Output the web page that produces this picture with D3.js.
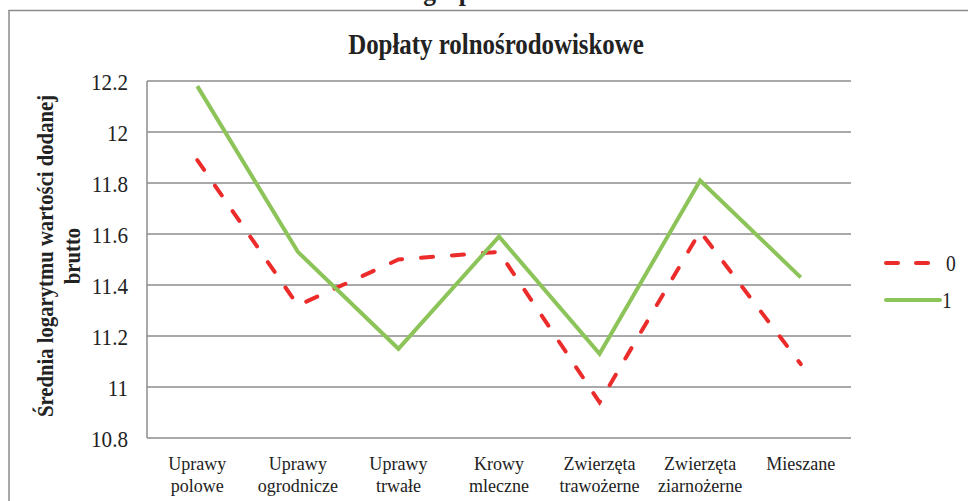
<!DOCTYPE html>
<html>
<head>
<meta charset="utf-8">
<script src="https://cdn.jsdelivr.net/npm/d3@7/dist/d3.min.js"></script>
<style>
  html, body { margin: 0; padding: 0; background: #fff; }
  svg { display: block; }
  svg text { font-family: "Liberation Serif", "Times New Roman", serif; fill: #222; }
</style>
</head>
<body>
<svg id="chart" width="968" height="501"></svg>
<script>
// data
const categories = ['Uprawy polowe', 'Uprawy ogrodnicze', 'Uprawy trwałe', 'Krowy mleczne', 'Zwierzęta trawożerne', 'Zwierzęta ziarnożerne', 'Mieszane'];
const categoryLines = [['Uprawy', 'polowe'], ['Uprawy', 'ogrodnicze'], ['Uprawy', 'trwałe'], ['Krowy', 'mleczne'], ['Zwierzęta', 'trawożerne'], ['Zwierzęta', 'ziarnożerne'], ['Mieszane']];
const values0 = [11.89, 11.32, 11.50, 11.53, 10.94, 11.61, 11.09];
const values1 = [12.18, 11.53, 11.15, 11.59, 11.13, 11.81, 11.43];
const seriesNames = ['0', '1'];
const yTicks = [10.8, 11, 11.2, 11.4, 11.6, 11.8, 12, 12.2];

const svg = d3.select('#chart');
const W = 968, H = 501;
const plot = { left: 147, right: 851, top: 81, bottom: 438 };
const grey = '#8c8c8c';
const red = '#ec2b2b';
const green = '#8dc459';

// narrow-looking text like the source (scaled along the text direction)
function label(parent, x, y, str, size, opts = {}) {
  const sx = opts.squeeze ?? 0.85;
  const rot = opts.rotate ? ' rotate(-90)' : '';
  const lines = Array.isArray(str) ? str : [str];
  const t = parent.append('text')
    .attr('transform', `translate(${x},${y})${rot} scale(${sx},1)`)
    .attr('text-anchor', opts.anchor ?? 'middle')
    .attr('font-size', size)
    .attr('font-weight', opts.bold ? 'bold' : null);
  t.selectAll('tspan').data(lines).join('tspan')
    .attr('x', 0).attr('dy', (d, i) => (i ? opts.lineHeight ?? size : 0)).text((d) => d);
  return t;
}

// caption fragment cut off at the top + outer frame
label(svg, 492, 0, 'gospodarstw', 30, { bold: true });
svg.append('rect').attr('x', 9).attr('y', 10.5).attr('width', W + 20).attr('height', H + 20)
  .attr('fill', 'none').attr('stroke', grey).attr('stroke-width', 1.5);

const x = d3.scaleBand().domain(categories).range([plot.left, plot.right]);
const cx = (c) => x(c) + x.bandwidth() / 2;
const y = d3.scaleLinear().domain([10.8, 12.2]).range([plot.bottom, plot.top]);

// gridlines
svg.append('g').selectAll('line').data(yTicks).join('line')
  .attr('x1', plot.left).attr('x2', plot.right)
  .attr('y1', (d) => y(d)).attr('y2', (d) => y(d))
  .attr('stroke', grey).attr('stroke-width', 1.5);
svg.append('line').attr('x1', plot.left).attr('x2', plot.left).attr('y1', plot.top).attr('y2', plot.bottom)
  .attr('stroke', grey).attr('stroke-width', 1.5);

// y axis labels (axis used for placement, text drawn narrow)
const yAxis = svg.append('g').attr('transform', `translate(${plot.left},0)`)
  .call(d3.axisLeft(y).tickValues(yTicks).tickSize(0).tickFormat(''));
yAxis.select('.domain').remove();
yAxis.selectAll('.tick').each(function (d) {
  label(d3.select(this), -19, 8, String(d), 24, { anchor: 'end', squeeze: 0.88 });
});

// x axis labels
categories.forEach((c, i) => {
  label(svg, cx(c), 470, categoryLines[i], 19, { squeeze: 0.95, lineHeight: 22 });
});

// title and axis title
label(svg, 496, 54, 'Dopłaty rolnośrodowiskowe', 30, { bold: true, squeeze: 0.83 });
label(svg, 53, 256, ['Średnia logarytmu wartości dodanej', 'brutto'], 23, { bold: true, rotate: true, squeeze: 0.9, lineHeight: 27 });

// series
const line = d3.line().x((d, i) => cx(categories[i])).y((d) => y(d));
svg.append('path').datum(values0).attr('d', line).attr('fill', 'none')
  .attr('stroke', red).attr('stroke-width', 4).attr('stroke-dasharray', '12,19')
  .attr('stroke-linecap', 'round');
svg.append('path').datum(values1).attr('d', line).attr('fill', 'none')
  .attr('stroke', green).attr('stroke-width', 4).attr('stroke-linejoin', 'miter');

// legend
const legend = svg.append('g').attr('transform', 'translate(884,0)');
const legendY = [263, 300];
const legendStyle = [
  { color: red, dash: '12,18', cap: 'round' },
  { color: green, dash: null, cap: 'round' }
];
seriesNames.forEach((name, i) => {
  const s = legendStyle[i];
  legend.append('line').attr('x1', 2).attr('x2', i === 0 ? 46 : 56)
    .attr('y1', legendY[i]).attr('y2', legendY[i])
    .attr('stroke', s.color).attr('stroke-width', 4)
    .attr('stroke-dasharray', s.dash).attr('stroke-linecap', s.cap);
  label(legend, i === 0 ? 62 : 58, legendY[i] + 8, name, 23, { anchor: 'start' });
});
</script>
</body>
</html>
